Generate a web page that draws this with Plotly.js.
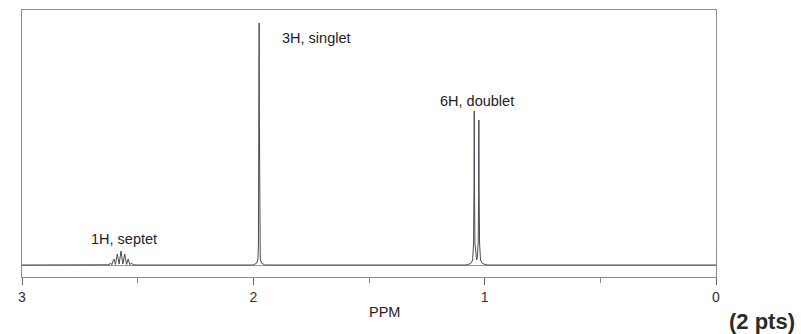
<!DOCTYPE html>
<html>
<head>
<meta charset="utf-8">
<script src="https://cdn.plot.ly/plotly-3.0.1.min.js"></script>
<style>
html,body{margin:0;padding:0;background:#fff;}
#chart{width:801px;height:334px;}
</style>
</head>
<body>
<div id="chart"></div>
<script>
// Spectrum points (ppm, intensity)
const baselinePpm = [3.0, 0.0];
const baselineInt = [0, 0];

const septetPpm = [2.64, 2.623, 2.618, 2.612, 2.603, 2.596, 2.588, 2.580, 2.572, 2.564, 2.556, 2.548, 2.541, 2.534, 2.526, 2.520, 2.50];
const septetInt = [0, 0.2, 2, 0.3, 6, 0.6, 11, 1.0, 14, 1.0, 11, 0.6, 6, 0.3, 2, 0.2, 0];

const singletPpm = [2.00, 1.985, 1.980, 1.978, 1.977, 1.976, 1.975, 1.974, 1.973, 1.972, 1.970, 1.965, 1.95];
const singletInt = [0, 2, 6, 20, 60, 150, 242, 150, 60, 20, 6, 2, 0];

const doubletPpm = [1.08, 1.06, 1.052, 1.048, 1.046, 1.045, 1.044, 1.042, 1.038, 1.035, 1.032, 1.028, 1.026, 1.025, 1.024, 1.022, 1.018, 1.01, 0.99];
const doubletInt = [0, 1.5, 5, 22, 75, 154, 75, 22, 7, 5, 7, 22, 70, 145, 70, 22, 5, 1.5, 0];

const tickVals = [3, 2, 1, 0];
const tickText = ["3", "2", "1", "0"];

const labels = ["1H, septet", "3H, singlet", "6H, doublet"];

// assemble the spectrum
const xs = [baselinePpm[0]].concat(septetPpm, singletPpm, doubletPpm, [baselinePpm[1]]);
const ys = [baselineInt[0]].concat(septetInt, singletInt, doubletInt, [baselineInt[1]]);

const trace = {
  x: xs, y: ys, type: 'scatter', mode: 'lines',
  line: {color: '#4a4a55', width: 1},
  hoverinfo: 'skip', showlegend: false
};

const txt = {size: 14.5, color: '#222'};

const layout = {
  width: 801, height: 334,
  margin: {l: 22, r: 85, t: 10, b: 57},
  paper_bgcolor: '#ffffff', plot_bgcolor: '#ffffff',
  font: {family: 'Liberation Sans, Arial, sans-serif', size: 14, color: '#333'},
  xaxis: {
    range: [3, 0], showgrid: false, zeroline: false,
    showline: true, linecolor: '#8a8a9a', linewidth: 1, mirror: true,
    ticks: 'outside', ticklen: 7, tickcolor: '#666', tickwidth: 1,
    tickvals: tickVals, ticktext: tickText,
    tickfont: {size: 14, color: '#333'},
    minor: {dtick: 0.5, tick0: 0, ticks: 'outside', ticklen: 5, tickcolor: '#888'}
  },
  yaxis: {
    range: [-12, 255], showgrid: false, zeroline: true,
    zerolinecolor: '#9a90b0', zerolinewidth: 1,
    showline: true, linecolor: '#8a8a9a', linewidth: 1, mirror: true,
    ticks: '', showticklabels: false
  },
  annotations: [
    {x: 2.561, y: 26, xref: 'x', yref: 'y', text: labels[0], showarrow: false, xanchor: 'center', font: txt},
    {x: 1.728, y: 227, xref: 'x', yref: 'y', text: labels[1], showarrow: false, xanchor: 'center', font: txt},
    {x: 1.033, y: 164, xref: 'x', yref: 'y', text: labels[2], showarrow: false, xanchor: 'center', font: txt},
    {x: 0.523, y: -0.131, xref: 'paper', yref: 'paper', text: 'PPM', showarrow: false, xanchor: 'center', yanchor: 'middle', font: txt},
    {x: 1.066, y: -0.168, xref: 'paper', yref: 'paper', text: '<b>(2 pts)</b>', showarrow: false, xanchor: 'center', yanchor: 'middle',
     font: {family: 'Liberation Sans Narrow, Liberation Sans, Arial, sans-serif', size: 22, color: '#2a2a2a'}}
  ]
};

Plotly.newPlot('chart', [trace], layout, {displayModeBar: false, staticPlot: true});
</script>
</body>
</html>
